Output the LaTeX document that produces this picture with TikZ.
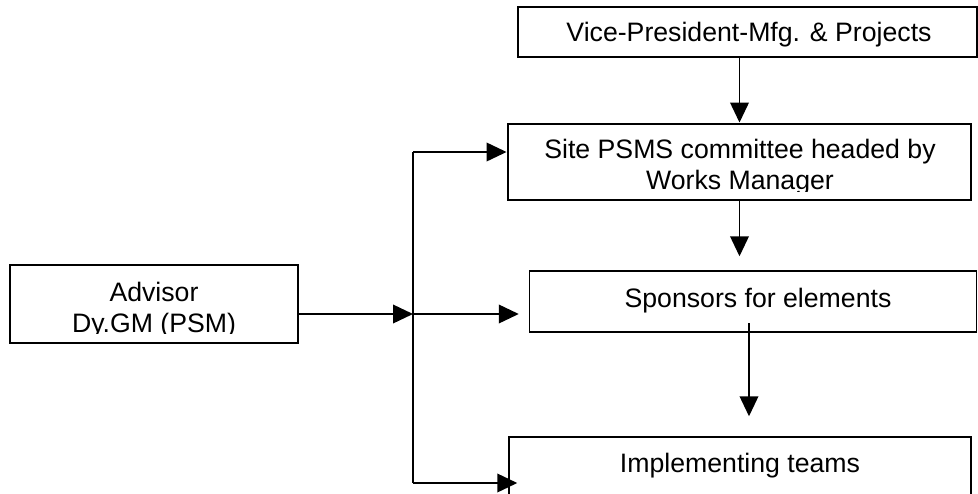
\documentclass[tikz,border=0pt]{standalone}
\usepackage{fontspec}
\setmainfont{Liberation Sans}
\usetikzlibrary{arrows.meta}
\begin{document}
\begin{tikzpicture}[x=0.75pt,y=-0.75pt,
  box/.style={draw,rectangle,line width=1.1pt,inner sep=0pt},
  heavybox/.style={box,line width=2.2pt},
  lbl/.style={anchor=base,inner sep=0pt,font=\fontsize{20pt}{24pt}\selectfont},
  link/.style={line width=1.2pt,-{Triangle[length=15pt,width=14pt]}},
  bus/.style={line width=1.2pt},
]
\useasboundingbox (0,0) rectangle (978,493);

% boxes
\node[box, minimum width=344.25pt, minimum height=37.5pt] (vp) at (747.5,32) {};
\node[heavybox, minimum width=347.25pt, minimum height=57pt] (site) at (739.5,162) {};
\node[box, minimum width=216pt, minimum height=58.5pt] (adv) at (154,304) {};
\node[box, minimum width=335.25pt, minimum height=45.75pt] (spons) at (753,301.5) {};
\node[box, minimum width=346.5pt, minimum height=51pt] (impl) at (740,471) {};

% labels
\node[lbl] (vp-t) at (749,41) {Vice-President-Mfg. \& Projects};
\node[lbl] (site-t1) at (740,158) {Site PSMS committee headed by};
\begin{scope}
  \clip (510,126) rectangle (969,191);
  \node[lbl] (site-t2) at (740,189) {Works Manager};
\end{scope}
\node[lbl] (adv-t1) at (154,301) {Advisor};
\begin{scope}
  \clip (12,267) rectangle (296,333.5);
  \node[lbl] (adv-t2) at (154,332) {Dy.GM (PSM)};
\end{scope}
\node[lbl] (spons-t) at (758,307) {Sponsors for elements};
\node[lbl] (impl-t) at (740,472) {Implementing teams};

% junction points of the advisor's distribution line
\coordinate (bus-top) at (413,152);
\coordinate (junc) at (413,314);
\coordinate (bus-bot) at (413,483);
\coordinate (spons-out) at (749,323);

% chain of command
\draw[link] (site.north |- vp.south) -- (site.north);
\draw[link, shorten >=10.5pt] (site.south) -- (site.south |- spons.north);
\draw[link, shorten >=15pt] (spons-out) -- (spons-out |- impl.north);

% advisor links
\draw[link] (adv.east |- junc) -- (junc);
\draw[bus] (bus-bot) -- (bus-top);
\draw[link] (bus-top) -- (bus-top -| site.west);
\draw[link, shorten >=7.5pt] (junc) -- (junc -| spons.west);
\draw[link, shorten >=-6.75pt] (bus-bot) -- (bus-bot -| impl.west);
\end{tikzpicture}
\end{document}
